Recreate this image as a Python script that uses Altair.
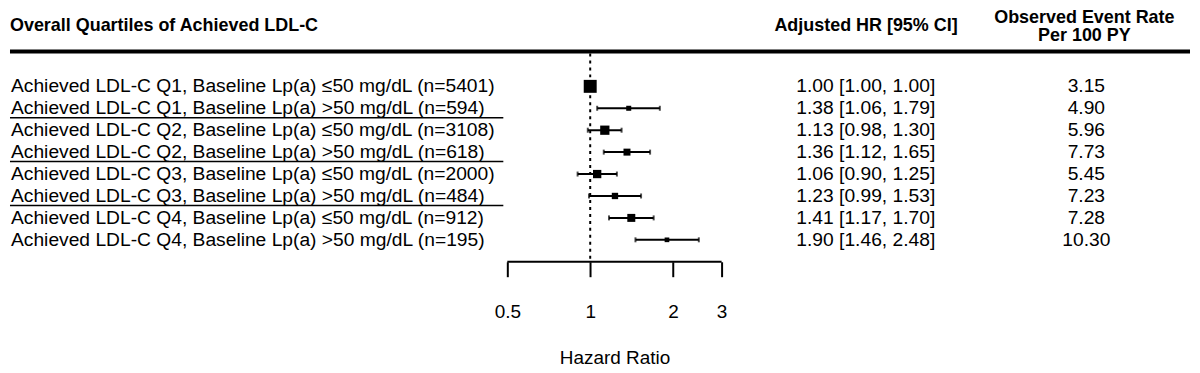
import altair as alt
import pandas as pd

# ---------------- data ----------------
quartiles = ["Q1", "Q1", "Q2", "Q2", "Q3", "Q3", "Q4", "Q4"]
lpa_groups = ["≤50", ">50", "≤50", ">50", "≤50", ">50", "≤50", ">50"]
n_patients = [5401, 594, 3108, 618, 2000, 484, 912, 195]
hr = [1.00, 1.38, 1.13, 1.36, 1.06, 1.23, 1.41, 1.90]
ci_low = [1.00, 1.06, 0.98, 1.12, 0.90, 0.99, 1.17, 1.46]
ci_high = [1.00, 1.79, 1.30, 1.65, 1.25, 1.53, 1.70, 2.48]
event_rate = [3.15, 4.90, 5.96, 7.73, 5.45, 7.23, 7.28, 10.30]
weight = [100, 15, 51, 29, 41, 24, 38, 13]  # relative box weight
separator_after = [2, 4, 6]
axis_ticks = [0.5, 1, 2, 3]

left_header = "Overall Quartiles of Achieved LDL-C"
hr_header = "Adjusted HR [95% CI]"
rate_header = ["Observed Event Rate", "Per 100 PY"]
x_title = "Hazard Ratio"

# ---------------- tables ----------------
df = pd.DataFrame({
    "row": list(range(1, len(hr) + 1)),
    "label": [f"Achieved LDL-C {q}, Baseline Lp(a) {g} mg/dL (n={n})"
              for q, g, n in zip(quartiles, lpa_groups, n_patients)],
    "hr": hr,
    "lo": ci_low,
    "hi": ci_high,
    "weight": weight,
    "hr_text": [f"{h:.2f} [{l:.2f}, {u:.2f}]" for h, l, u in zip(hr, ci_low, ci_high)],
    "rate_text": [f"{r:.2f}" for r in event_rate],
})
sep_df = pd.DataFrame({"row": separator_after})
one = pd.DataFrame({"k": [0]})

FONT = "Liberation Sans"
W, H = 1184, 251

xscale = alt.Scale(type="log", domain=[axis_ticks[0], axis_ticks[-1]], range=[499, 714], nice=False)
yscale = alt.Scale(domain=[1, len(hr)], range=[75, 229], nice=False, zero=False)
xaxis = alt.Axis(values=axis_ticks, domain=False, grid=False, tickSize=15, tickWidth=2,
                 tickColor="black", labelFontSize=19, labelColor="black", labelFont=FONT,
                 labelPadding=35, labelBaseline="middle", labelFlush=False,
                 labelExpr="datum.value == 0.5 ? '0.5' : format(datum.value, 'd')",
                 title=x_title, titleFontSize=19, titleFontWeight="normal", titleFont=FONT,
                 titleColor="black", titleX=606.5, titleY=96, titleBaseline="middle",
                 titleAlign="center")


def X(field):
    return alt.X(f"{field}:Q", scale=xscale, axis=xaxis, title=x_title)


Y = alt.Y("row:Q", scale=yscale, axis=None)

base = alt.Chart(df)

header_rule = alt.Chart(one).mark_rule(color="black", strokeWidth=4).encode(
    x=alt.value(0), x2=alt.value(W), y=alt.value(40))

ref_line = alt.Chart(one).mark_rule(color="black", strokeWidth=2, strokeDash=[3, 4]).encode(
    x=alt.datum(1), y=alt.value(42), y2=alt.value(H))

axis_line = alt.Chart(one).mark_rule(color="black", strokeWidth=2).encode(
    x=alt.datum(axis_ticks[0]), x2=alt.datum(axis_ticks[-1]), y=alt.value(H))

ci = base.mark_rule(color="black", strokeWidth=2).encode(x=X("lo"), x2="hi", y=Y)

caps = base.transform_fold(["lo", "hi"], as_=["end", "val"]).mark_tick(
    color="black", orient="vertical", size=5, thickness=2).encode(x=X("val"), y=Y)

boxes = base.mark_square(color="black", filled=True, opacity=1).encode(
    x=X("hr"), y=Y,
    size=alt.Size("weight:Q", scale=alt.Scale(domain=[0, 100], range=[0, 169]), legend=None))

labels = base.mark_text(align="left", baseline="middle", fontSize=19.3, font=FONT,
                        color="black").encode(x=alt.value(1), y=Y, text="label:N")

hr_col = base.mark_text(align="left", baseline="middle", fontSize=19.3, font=FONT,
                        color="black").encode(x=alt.value(789), y=Y, text="hr_text:N")

rate_col = base.mark_text(align="center", baseline="middle", fontSize=19.3, font=FONT,
                          color="black").encode(x=alt.value(1080), y=Y, text="rate_text:N")

separators = alt.Chart(sep_df).mark_rule(color="black", strokeWidth=1.5, yOffset=9.5).encode(
    x=alt.value(0), x2=alt.value(495), y=Y)

h1 = alt.Chart(one).mark_text(text=left_header, align="left", baseline="middle", fontSize=18,
                              fontWeight="bold", font=FONT, color="black").encode(
    x=alt.value(0), y=alt.value(14))
h2 = alt.Chart(one).mark_text(text=hr_header, align="left", baseline="middle", fontSize=18,
                              fontWeight="bold", font=FONT, color="black").encode(
    x=alt.value(767), y=alt.value(14))
h3 = alt.Chart(one).mark_text(text=rate_header, align="center", baseline="middle", fontSize=18,
                              fontWeight="bold", font=FONT, color="black", lineHeight=19).encode(
    x=alt.value(1078), y=alt.value(6))

chart = alt.layer(
    header_rule, ref_line, axis_line, separators, ci, caps, boxes,
    labels, hr_col, rate_col, h1, h2, h3
).properties(width=W, height=H, padding=0, background="white").configure(
    font=FONT).configure_view(strokeWidth=0, stroke="transparent")

chart.save("out.html", embed_options={"renderer": "svg", "actions": False})
